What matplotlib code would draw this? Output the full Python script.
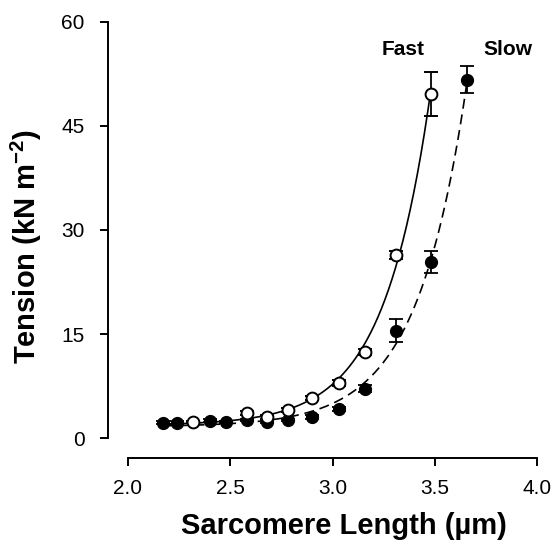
import matplotlib

matplotlib.use("Agg")

import matplotlib.pyplot as plt
import numpy as np

plt.rcParams["font.family"] = ["Liberation Sans", "DejaVu Sans"]
plt.rcParams["mathtext.fontset"] = "custom"
plt.rcParams["mathtext.rm"] = "Liberation Sans"
plt.rcParams["mathtext.bf"] = "Liberation Sans:bold"

# fast muscle (open circles)
fast_length = [2.32, 2.58, 2.68, 2.78, 2.90, 3.03, 3.16, 3.31, 3.48]
fast_tension = [2.3, 3.6, 3.0, 4.0, 5.8, 7.9, 12.4, 26.4, 49.6]
fast_err = [0.2, 0.3, 0.3, 0.3, 0.3, 0.4, 0.4, 0.6, 3.2]

# slow muscle (filled circles)
slow_length = [2.17, 2.24, 2.40, 2.48, 2.58, 2.68, 2.78, 2.90, 3.03, 3.16, 3.31, 3.48, 3.66]
slow_tension = [2.2, 2.2, 2.5, 2.3, 2.6, 2.3, 2.6, 3.0, 4.2, 7.1, 15.5, 25.4, 51.7]
slow_err = [0.2, 0.2, 0.2, 0.2, 0.2, 0.2, 0.2, 0.3, 0.3, 0.5, 1.6, 1.6, 2.0]

x_ticks = [2.0, 2.5, 3.0, 3.5, 4.0]
y_ticks = [0, 15, 30, 45, 60]


def fit_exponential(x, y):
    """Least-squares fit of y = c + a*exp(k*x), scanning k."""
    x = np.asarray(x, dtype=float)
    y = np.asarray(y, dtype=float)
    x0 = x.max()
    best = None
    for k in np.linspace(1.0, 15.0, 1401):
        basis = np.column_stack([np.ones_like(x), np.exp(k * (x - x0))])
        coef, *_ = np.linalg.lstsq(basis, y, rcond=None)
        sse = np.sum((basis @ coef - y) ** 2)
        if best is None or sse < best[0]:
            best = (sse, k, coef)
    _, k, (c, a) = best
    return lambda xx: c + a * np.exp(k * (xx - x0))


fig = plt.figure(figsize=(5.53, 5.45), dpi=100)
ax = fig.add_axes([128 / 553, 107 / 545, 409 / 553, 416 / 545])

start = slow_length[0]
fast_curve = fit_exponential(fast_length, fast_tension)
slow_curve = fit_exponential(slow_length, slow_tension)
xf = np.linspace(start, fast_length[-1], 300)
xs = np.linspace(start, slow_length[-1], 300)
ax.plot(xf, fast_curve(xf), color="black", lw=1.2, zorder=2)
ax.plot(xs, slow_curve(xs), color="black", lw=1.2, dashes=(6, 3.5), zorder=2)

ax.errorbar(slow_length, slow_tension, yerr=slow_err, fmt="o", color="black",
            mfc="black", mec="black", ms=8.5, capsize=4.7, elinewidth=1.3,
            capthick=1.3, zorder=3, clip_on=False)
ax.errorbar(fast_length, fast_tension, yerr=fast_err, fmt="o", color="black",
            mfc="white", mec="black", mew=1.4, ms=8.5, capsize=4.7,
            elinewidth=1.3, capthick=1.3, zorder=4, clip_on=False)

ax.text(3.347, 56.0, "Fast", ha="center", va="center", fontsize=15, fontweight="bold")
ax.text(3.856, 56.0, "Slow", ha="center", va="center", fontsize=15, fontweight="bold")

ax.set_xlim(2.0, 4.0)
ax.set_ylim(0, 60)
ax.set_xticks(x_ticks)
ax.set_xticklabels([f"{v:.1f}" for v in x_ticks])
ax.set_yticks(y_ticks)

for side in ("top", "right"):
    ax.spines[side].set_visible(False)
for side in ("left", "bottom"):
    ax.spines[side].set_position(("outward", 14.4))
    ax.spines[side].set_linewidth(1.4)

ax.tick_params(direction="out", length=5.8, width=1.4, labelsize=15)
ax.tick_params(axis="x", pad=9)
ax.tick_params(axis="y", pad=11)
ax.set_xlabel("Sarcomere Length (µm)", fontsize=21, fontweight="bold")
ax.set_ylabel("Tension (kN m$^{\\mathbf{-2}}$)", fontsize=21, fontweight="bold")
ax.xaxis.set_label_coords(0.529, -0.178)
ax.yaxis.set_label_coords(-0.205, 0.46)

fig.savefig("out.png", dpi=100)
